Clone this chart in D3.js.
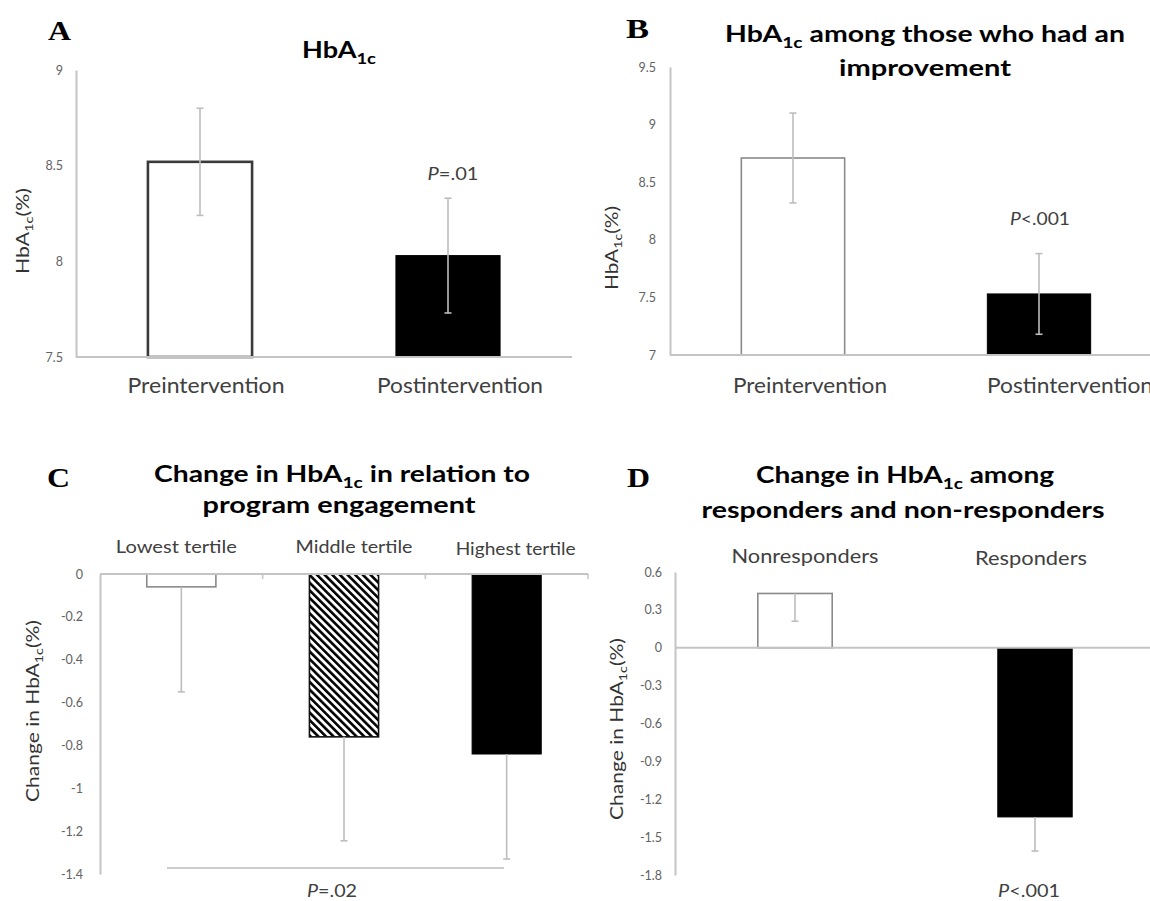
<!DOCTYPE html>
<html><head><meta charset="utf-8">
<script src="https://cdn.jsdelivr.net/npm/d3@7"></script>
<style>body{margin:0;background:#fff;overflow:hidden}</style>
</head><body><svg id="c" width="1150" height="901"></svg>
<script>
// ---------------- data ----------------
const aCategories = ["Preintervention", "Postintervention"];
const aMeans = [8.52, 8.03];
const aErrors = [0.28, 0.30];
const aTicks = [7.5, 8, 8.5, 9];
const aPValue = "=.01";

const bCategories = ["Preintervention", "Postintervention"];
const bMeans = [8.71, 7.53];
const bErrors = [0.39, 0.35];
const bTicks = [7, 7.5, 8, 8.5, 9, 9.5];
const bPValue = "<.001";

const cCategories = ["Lowest tertile", "Middle tertile", "Highest tertile"];
const cChanges = [-0.06, -0.76, -0.84];
const cErrors = [0.49, 0.485, 0.49];
const cTicks = [0, -0.2, -0.4, -0.6, -0.8, -1, -1.2, -1.4];
const cPValue = "=.02";

const dCategories = ["Nonresponders", "Responders"];
const dChanges = [0.43, -1.34];
const dErrors = [0.22, 0.27];
const dTicks = [0.6, 0.3, 0, -0.3, -0.6, -0.9, -1.2, -1.5, -1.8];
const dPValue = "<.001";

// ---------------- drawing ----------------
const svg = d3.select("#c");
const FONT = "Lato, 'Open Sans', sans-serif";
const SERIF = "'Liberation Serif', 'DejaVu Serif', serif";
const AXIS = "#c4c4c4";
const ERR = "#bdbdbd";
const LBL = "#404040";

const defs = svg.append("defs");
const pat = defs.append("pattern").attr("id", "hatch")
  .attr("patternUnits", "userSpaceOnUse").attr("width", 5.4).attr("height", 5.4)
  .attr("patternTransform", "rotate(-45)");
pat.append("rect").attr("width", 5.4).attr("height", 5.4).attr("fill", "#fff");
pat.append("rect").attr("width", 2.6).attr("height", 5.4).attr("fill", "#000");

function rich(g, x, y, parts, o) {
  const t = g.append("text").attr("x", x).attr("y", y)
    .attr("font-family", o.family || FONT).attr("font-size", o.size)
    .attr("font-weight", o.weight || "normal").attr("fill", o.fill || "#000")
    .attr("text-anchor", o.anchor || "middle");
  if (o.rotate) t.attr("transform", `rotate(-90,${x},${y})`);
  if (o.len) t.attr("textLength", o.len).attr("lengthAdjust", "spacingAndGlyphs");
  let shifted = 0;
  parts.forEach(p => {
    const s = t.append("tspan").text(p.t);
    if (p.sub) { s.attr("font-size", o.size * 0.68).attr("dy", o.size * 0.25); shifted = o.size * 0.25; }
    else if (shifted) { s.attr("dy", -shifted); shifted = 0; }
    if (p.italic) s.attr("font-style", "italic");
  });
  return t;
}

function panel(cfg) {
  const g = svg.append("g");
  const x = d3.scaleBand().domain(cfg.categories).range(cfg.xRange).padding(0);
  const y = d3.scaleLinear().domain(cfg.domain).range(cfg.yRange);
  const bw = x.bandwidth() * cfg.barRatio;
  const base = cfg.base;

  // y axis
  const ya = g.append("g").attr("transform", `translate(${cfg.xRange[0]},0)`)
    .call(d3.axisLeft(y).tickValues(cfg.ticks).tickSize(0).tickSizeOuter(0)
      .tickPadding(cfg.tickPad).tickFormat(d => String(d)));
  ya.select(".domain").attr("stroke", AXIS).attr("stroke-width", 2);
  ya.selectAll("text").attr("font-family", FONT).attr("font-size", 12.5)
    .attr("fill", "#626262");

  // bars
  cfg.categories.forEach((c, i) => {
    const v = cfg.values[i];
    const st = cfg.styles[i];
    const x0 = x(c) + (x.bandwidth() - bw) / 2;
    g.append("rect").attr("x", x0).attr("width", bw)
      .attr("y", Math.min(y(v), y(base))).attr("height", Math.abs(y(v) - y(base)))
      .attr("fill", st.fill).attr("stroke", st.stroke).attr("stroke-width", st.sw);
  });

  // x axis (baseline)
  const xa = g.append("g").attr("transform", `translate(0,${y(base)})`)
    .call((cfg.labelsTop ? d3.axisTop(x) : d3.axisBottom(x)).tickSize(0).tickSizeOuter(0).tickPadding(0));
  xa.select(".domain").attr("stroke", AXIS).attr("stroke-width", 2.2)
    .attr("d", `M${cfg.xRange[0]},0H${cfg.xRange[1]}`);
  xa.selectAll("text").remove();
  if (cfg.boundaryTicks) {
    cfg.categories.forEach((c, i) => {
      const bx = x(c) + x.bandwidth();
      xa.append("line").attr("x1", bx).attr("x2", bx).attr("y1", 0).attr("y2", 5)
        .attr("stroke", AXIS).attr("stroke-width", 1.5);
    });
  }

  // category labels
  cfg.categories.forEach((c, i) => {
    const t = g.append("text").attr("x", x(c) + x.bandwidth() / 2 + cfg.labelDx[i])
      .attr("y", cfg.labelY[i]).attr("text-anchor", "middle")
      .attr("font-family", FONT).attr("font-size", cfg.labelSize).attr("fill", LBL)
      .text(c);
    if (cfg.labelLen[i]) t.attr("textLength", cfg.labelLen[i]).attr("lengthAdjust", "spacingAndGlyphs");
  });

  // error bars
  cfg.categories.forEach((c, i) => {
    const v = cfg.values[i], e = cfg.errors[i];
    const cx = x(c) + x.bandwidth() / 2;
    const hi = cfg.errMode === "both" ? v + e : v;
    const lo = v - e;
    g.append("line").attr("x1", cx).attr("x2", cx).attr("y1", y(hi)).attr("y2", y(lo))
      .attr("stroke", ERR).attr("stroke-width", 1.6);
    const caps = cfg.errMode === "both" ? [hi, lo] : [lo];
    caps.forEach(cv => g.append("line").attr("x1", cx - 3.5).attr("x2", cx + 3.5)
      .attr("y1", y(cv)).attr("y2", y(cv)).attr("stroke", ERR).attr("stroke-width", 1.6));
  });

  // panel letter
  g.append("text").attr("x", cfg.letter[1]).attr("y", cfg.letter[2])
    .attr("font-family", SERIF).attr("font-weight", "bold").attr("font-size", 27)
    .attr("textLength", 23).attr("lengthAdjust", "spacingAndGlyphs")
    .text(cfg.letter[0]);

  // title lines
  cfg.title.forEach(tl => rich(g, tl.x, tl.y, tl.parts, {size: 23, weight: "bold", len: tl.len}));

  // y label
  rich(g, cfg.ylab.x, cfg.ylab.y, cfg.ylab.parts,
    {size: 17, fill: "#333", rotate: true, len: cfg.ylab.len});

  // p value
  rich(g, cfg.p.x, cfg.p.y, [{t: "P", italic: true}, {t: cfg.p.text}],
    {size: 18, fill: LBL, len: cfg.p.len});

  return {g, x, y};
}

const white = (s, w) => ({fill: "#fff", stroke: s, sw: w});
const black = {fill: "#000", stroke: "#000", sw: 1};

// Panel A
panel({
  categories: aCategories, values: aMeans, errors: aErrors, ticks: aTicks,
  domain: [7.5, 9], base: 7.5, xRange: [76, 572], yRange: [357, 70],
  barRatio: 0.42, tickPad: 13, errMode: "both",
  styles: [white("#3a3a3a", 2.6), black],
  labelDx: [6, 12], labelY: [393, 393], labelSize: 21, labelLen: [157, 166],
  letter: ["A", 48, 40],
  title: [{x: 339, y: 58, len: 74, parts: [{t: "HbA"}, {t: "1c", sub: true}]}],
  ylab: {x: 29, y: 231, len: 86, parts: [{t: "HbA"}, {t: "1c", sub: true}, {t: "(%)"}]},
  p: {x: 453, y: 180, len: 51, text: aPValue}
});

// Panel B
panel({
  categories: bCategories, values: bMeans, errors: bErrors, ticks: bTicks,
  domain: [7, 9.5], base: 7, xRange: [670, 1162], yRange: [355, 67],
  barRatio: 0.42, tickPad: 14, errMode: "both",
  styles: [white("#8a8a8a", 1.6), black],
  labelDx: [17, 31], labelY: [393, 393], labelSize: 21, labelLen: [154, 166],
  letter: ["B", 626, 38],
  title: [
    {x: 925, y: 42, len: 400, parts: [{t: "HbA"}, {t: "1c", sub: true}, {t: " among those who had an"}]},
    {x: 925, y: 76, len: 172, parts: [{t: "improvement"}]}
  ],
  ylab: {x: 618, y: 248, len: 84, parts: [{t: "HbA"}, {t: "1c", sub: true}, {t: "(%)"}]},
  p: {x: 1040, y: 225, len: 60, text: bPValue}
});

// Panel C
panel({
  categories: cCategories, values: cChanges, errors: cErrors, ticks: cTicks,
  domain: [-1.4, 0], base: 0, xRange: [100, 588], yRange: [874, 574],
  barRatio: 0.425, tickPad: 17, errMode: "minus", labelsTop: true, boundaryTicks: true,
  styles: [white("#8a8a8a", 1.6), {fill: "url(#hatch)", stroke: "#111", sw: 1.6}, black],
  labelDx: [-5, 10, 9], labelY: [553, 553, 555], labelSize: 16.5, labelLen: [121, 117, 120],
  letter: ["C", 47, 487],
  title: [
    {x: 342, y: 482, len: 376, parts: [{t: "Change in HbA"}, {t: "1c", sub: true}, {t: " in relation to"}]},
    {x: 339, y: 513, len: 273, parts: [{t: "program engagement"}]}
  ],
  ylab: {x: 39, y: 711, len: 182, parts: [{t: "Change in HbA"}, {t: "1c", sub: true}, {t: "(%)"}]},
  p: {x: 332, y: 897, len: 50, text: cPValue}
});
// bracket under panel C
svg.append("line").attr("x1", 167).attr("x2", 504).attr("y1", 868).attr("y2", 868)
  .attr("stroke", ERR).attr("stroke-width", 1.5);

// Panel D
panel({
  categories: dCategories, values: dChanges, errors: dErrors, ticks: dTicks,
  domain: [-1.8, 0.6], base: 0, xRange: [675, 1155], yRange: [875, 572],
  barRatio: 0.31, tickPad: 13, errMode: "minus",
  styles: [white("#8a8a8a", 1.6), black],
  labelDx: [10, -4], labelY: [563, 565], labelSize: 18.5, labelLen: [147, 112],
  letter: ["D", 627, 487],
  title: [
    {x: 905, y: 483, len: 298, parts: [{t: "Change in HbA"}, {t: "1c", sub: true}, {t: " among"}]},
    {x: 903, y: 518, len: 403, parts: [{t: "responders and non-responders"}]}
  ],
  ylab: {x: 623, y: 729, len: 182, parts: [{t: "Change in HbA"}, {t: "1c", sub: true}, {t: "(%)"}]},
  p: {x: 1029, y: 897, len: 62, text: dPValue}
});
</script>
</body></html>
